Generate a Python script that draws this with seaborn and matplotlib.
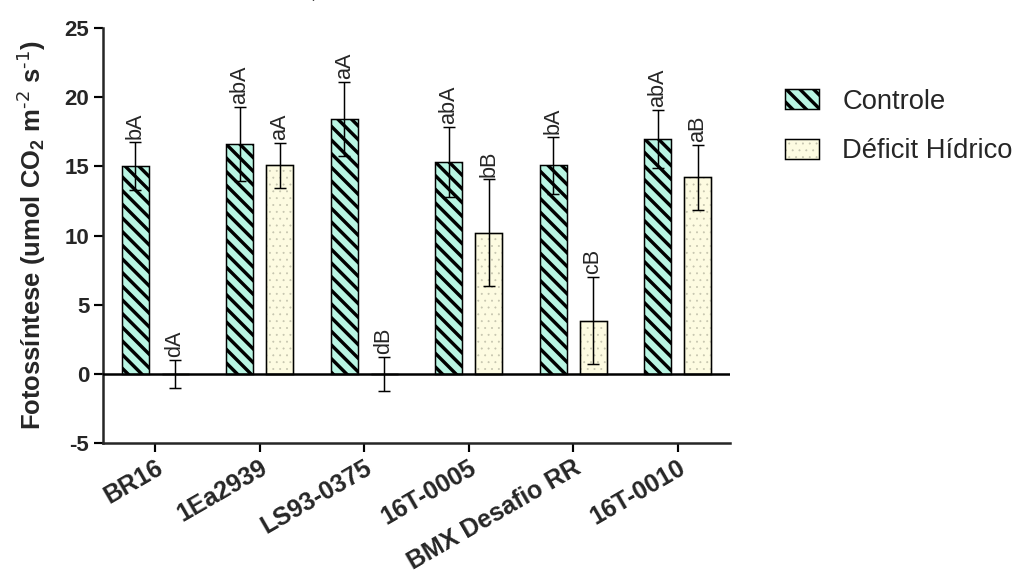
import numpy as np
import pandas as pd
import seaborn as sns
import matplotlib.pyplot as plt
from matplotlib.patches import Patch, Rectangle

genotypes = ["BR16", "1Ea2939", "LS93-0375", "16T-0005", "BMX Desafio RR", "16T-0010"]
treatments = ["Controle", "Déficit Hídrico"]
controle_mean = [15.0, 16.6, 18.4, 15.3, 15.05, 16.95]
controle_sd = [1.75, 2.65, 2.7, 2.55, 2.05, 2.1]
deficit_mean = [0.0, 15.05, 0.0, 10.2, 3.85, 14.2]
deficit_sd = [1.0, 1.65, 1.25, 3.85, 3.15, 2.35]
controle_letters = ["bA", "abA", "aA", "abA", "bA", "abA"]
deficit_letters = ["dA", "aA", "dB", "bB", "cB", "aB"]

DPI = 82
mint = "#b9f5e3"
cream = "#fdfbe1"
dot_color = "#c4c3ad"
stripes = "\\\\"  # two backslashes -> denser diagonal hatch

sns.set_style("ticks")
plt.rcParams["font.family"] = ["Liberation Sans", "DejaVu Sans"]
plt.rcParams["mathtext.default"] = "regular"
plt.rcParams["axes.unicode_minus"] = False
plt.rcParams["hatch.linewidth"] = 3.0

df = pd.DataFrame({
    "genotipo": genotypes * 2,
    "tratamento": [treatments[0]] * len(genotypes) + [treatments[1]] * len(genotypes),
    "fotossintese": controle_mean + deficit_mean,
})

fig = plt.figure(figsize=(1028 / DPI, 577 / DPI), dpi=DPI)
ax = fig.add_axes([0.1002, 0.2314, 0.6099, 0.7209])

sns.barplot(data=df, x="genotipo", y="fotossintese", hue="tratamento",
            order=genotypes, hue_order=treatments, palette=[mint, cream],
            errorbar=None, width=0.76, gap=0.32, saturation=1,
            edgecolor="black", linewidth=1.3, legend=False, ax=ax)

ctrl_bars, def_bars = ax.containers[0], ax.containers[1]
for b in ctrl_bars:
    b.set_hatch(stripes)
    b.set_zorder(2)
for b in def_bars:
    b.set_edgecolor(dot_color)
    b.set_hatch("..")
    if hasattr(b, "set_hatch_linewidth"):
        b.set_hatch_linewidth(0.5)
    b.set_zorder(2)
    ax.add_patch(Rectangle(b.get_xy(), b.get_width(), b.get_height(),
                           fill=False, ec="black", lw=1.3, zorder=2.5))

for bars, means, sds, letters in [(ctrl_bars, controle_mean, controle_sd, controle_letters),
                                   (def_bars, deficit_mean, deficit_sd, deficit_letters)]:
    xs = [b.get_x() + b.get_width() / 2 for b in bars]
    ax.errorbar(xs, means, yerr=sds, fmt="none", ecolor="black", elinewidth=1.3,
                capsize=5.3, capthick=1.3, zorder=4)
    for x, m, s, lab in zip(xs, means, sds, letters):
        ax.annotate(lab, (x, m + s), xytext=(0, 2.5), textcoords="offset points",
                    rotation=90, ha="center", va="bottom", fontsize=19)

ax.axhline(0, color="black", lw=2.2, zorder=3)

ax.set_xlim(-0.5, 5.5)
ax.set_ylim(-5, 25)
ax.set_yticks([-5, 0, 5, 10, 15, 20, 25])
ax.set_xlabel("")
ax.set_ylabel(r"Fotossíntese (umol CO$_2$ m$^{\text{-2}}$ s$^{\text{-1}}$)", fontsize=22.5,
              fontweight="bold", labelpad=15)
sns.despine(ax=ax)
for s in ["left", "bottom"]:
    ax.spines[s].set_linewidth(2.2)
ax.tick_params(axis="both", width=1.9, length=8, color="black")
ax.tick_params(axis="y", labelsize=19.5, pad=4)
ax.tick_params(axis="x", labelsize=22, pad=3)
for lab in ax.get_yticklabels():
    lab.set_fontweight("bold")
for lab in ax.get_xticklabels():
    lab.set_fontweight("bold")
    lab.set_rotation(30)
    lab.set_ha("right")
    lab.set_rotation_mode("anchor")

h_ctrl = Patch(facecolor=mint, edgecolor="black", hatch=stripes, lw=1.3)
h_dots = Patch(facecolor=cream, edgecolor=dot_color, hatch="..", lw=0)
h_edge = Patch(fill=False, edgecolor="black", lw=1.3)
leg = fig.legend([h_ctrl, (h_dots, h_edge)], treatments, loc="upper left",
                 bbox_to_anchor=(0.7636, 0.846), frameon=False, fontsize=24,
                 handlelength=1.25, handleheight=0.75, handletextpad=0.85,
                 labelspacing=0.85, borderpad=0, borderaxespad=0)
for p in leg.findobj(Rectangle):
    if p.get_hatch() == ".." and hasattr(p, "set_hatch_linewidth"):
        p.set_hatch_linewidth(0.5)

fig.text(0.3055, 0.987, "´", fontsize=16, ha="center", va="center")

fig.savefig("out.png", dpi=DPI)
